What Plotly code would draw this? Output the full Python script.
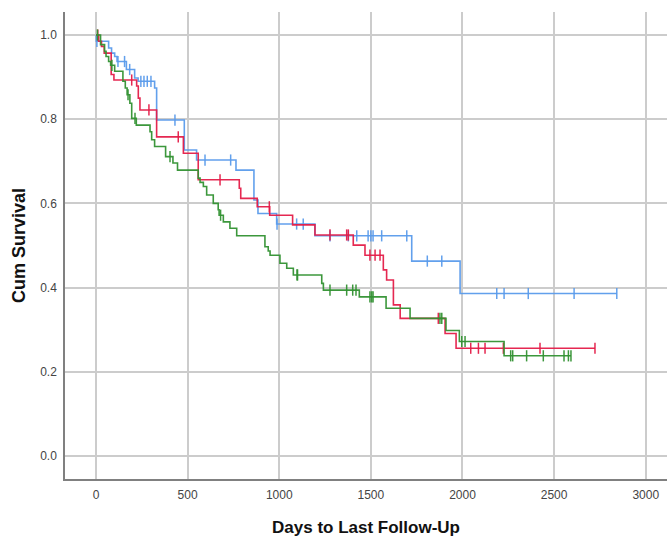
import plotly.graph_objects as go

# ---- data (days, cumulative survival) ----
blue_t = [0, 2, 69, 85, 102, 115, 166, 211, 230, 320, 331, 482, 549, 764, 862, 884, 986, 1195, 1723, 1987]
blue_s = [1.0, 0.985, 0.969, 0.957, 0.949, 0.937, 0.918, 0.898, 0.89, 0.874, 0.798, 0.727, 0.703, 0.679, 0.608, 0.576, 0.551, 0.523, 0.463, 0.386]
blue_c = [5, 120, 156, 184, 245, 262, 280, 300, 431, 595, 735, 988, 1095, 1131, 1277, 1377, 1423, 1485, 1500, 1512, 1559, 1696, 1808, 1887, 2187, 2227, 2359, 2609, 2842]

red_t = [0, 15, 30, 45, 83, 98, 222, 231, 240, 331, 477, 558, 782, 790, 880, 948, 1073, 1195, 1404, 1468, 1568, 1586, 1623, 1660, 1905, 1965]
red_s = [1.0, 0.985, 0.973, 0.957, 0.906, 0.893, 0.879, 0.85, 0.822, 0.758, 0.719, 0.656, 0.636, 0.612, 0.592, 0.572, 0.549, 0.525, 0.501, 0.477, 0.442, 0.418, 0.359, 0.327, 0.291, 0.256]
red_c = [10, 195, 289, 449, 677, 946, 1277, 1368, 1377, 1495, 1523, 1550, 1868, 2045, 2087, 2123, 2223, 2423, 2723]

green_t = [0, 25, 47, 55, 69, 80, 102, 147, 160, 170, 185, 195, 220, 295, 304, 320, 380, 420, 445,
           558, 568, 586, 604, 640, 667, 672, 695, 731, 768, 922, 940, 950, 1004, 1041, 1077, 1232, 1241,
           1437, 1583, 1714, 1910, 1983, 2227]
green_s = [1.0, 0.977, 0.961, 0.949, 0.937, 0.928, 0.914, 0.89, 0.874, 0.858, 0.838, 0.802, 0.786, 0.770, 0.751, 0.735, 0.711, 0.696, 0.679,
           0.660, 0.650, 0.640, 0.620, 0.600, 0.585, 0.572, 0.556, 0.541, 0.523, 0.497, 0.487, 0.477, 0.458, 0.446, 0.430, 0.41, 0.394,
           0.378, 0.351, 0.327, 0.298, 0.272, 0.238]
green_c = [8, 87, 175, 213, 404, 680, 1097, 1100, 1277, 1368, 1401, 1419, 1495, 1505, 1512, 1877, 1887, 1996, 2014,
           2263, 2274, 2350, 2441, 2554, 2578, 2592]

x_ticks = [0, 500, 1000, 1500, 2000, 2500, 3000]
y_ticks = [0.0, 0.2, 0.4, 0.6, 0.8, 1.0]

series = [
    ("blue", blue_t, blue_s, blue_c, "rgba(90,155,235,0.95)"),
    ("red", red_t, red_s, red_c, "rgba(228,28,72,0.95)"),
    ("green", green_t, green_s, green_c, "rgba(50,145,50,0.95)"),
]


def surv_at(ts, ss, t):
    v = ss[0]
    for ti, si in zip(ts, ss):
        if ti <= t:
            v = si
        else:
            break
    return v


fig = go.Figure()
for name, ts, ss, cs, col in series:
    end = max(ts[-1], cs[-1])
    xs = list(ts) + [end]
    ys = list(ss) + [ss[-1]]
    fig.add_trace(go.Scatter(x=xs, y=ys, mode="lines", line=dict(color=col, width=1.6, shape="hv"),
                             name=name, showlegend=False, hoverinfo="skip"))
    fig.add_trace(go.Scatter(x=cs, y=[surv_at(ts, ss, c) for c in cs], mode="markers",
                             marker=dict(symbol="line-ns", size=8, line=dict(color=col, width=1.5)),
                             showlegend=False, hoverinfo="skip"))

fig.update_layout(
    width=667, height=542,
    margin=dict(l=65, r=0, t=12, b=63),
    paper_bgcolor="white", plot_bgcolor="white",
    font=dict(family="Liberation Sans, Arial, sans-serif", size=12, color="#333333"),
)
fig.update_xaxes(
    range=[-169, 3116], tickvals=x_ticks, ticktext=[str(v) for v in x_ticks],
    showgrid=True, gridcolor="#cccccc", gridwidth=1.5, zeroline=False,
    showline=True, linecolor="#808080", linewidth=1.5, ticks="", automargin=False,
    ticklabelstandoff=4,
    tickfont=dict(size=12, color="#444444"),
    title=dict(text="<b>Days to Last Follow-Up</b>", font=dict(size=17, color="#111111"), standoff=20),
)
fig.update_yaxes(
    range=[-0.0546, 1.0546], tickvals=y_ticks, ticktext=[f"{v:.1f}" for v in y_ticks],
    showgrid=True, gridcolor="#cccccc", gridwidth=1.5, zeroline=False,
    showline=True, linecolor="#808080", linewidth=1.5, ticks="", automargin=False,
    ticklabelstandoff=4,
    tickfont=dict(size=12, color="#444444"),
    title=dict(text="<b>Cum Survival</b>", font=dict(size=18, color="#111111"), standoff=10),
)

fig.write_html("out.html", config={"displayModeBar": False},
               post_script="document.body.style.margin='0px';document.body.style.overflow='hidden';")
